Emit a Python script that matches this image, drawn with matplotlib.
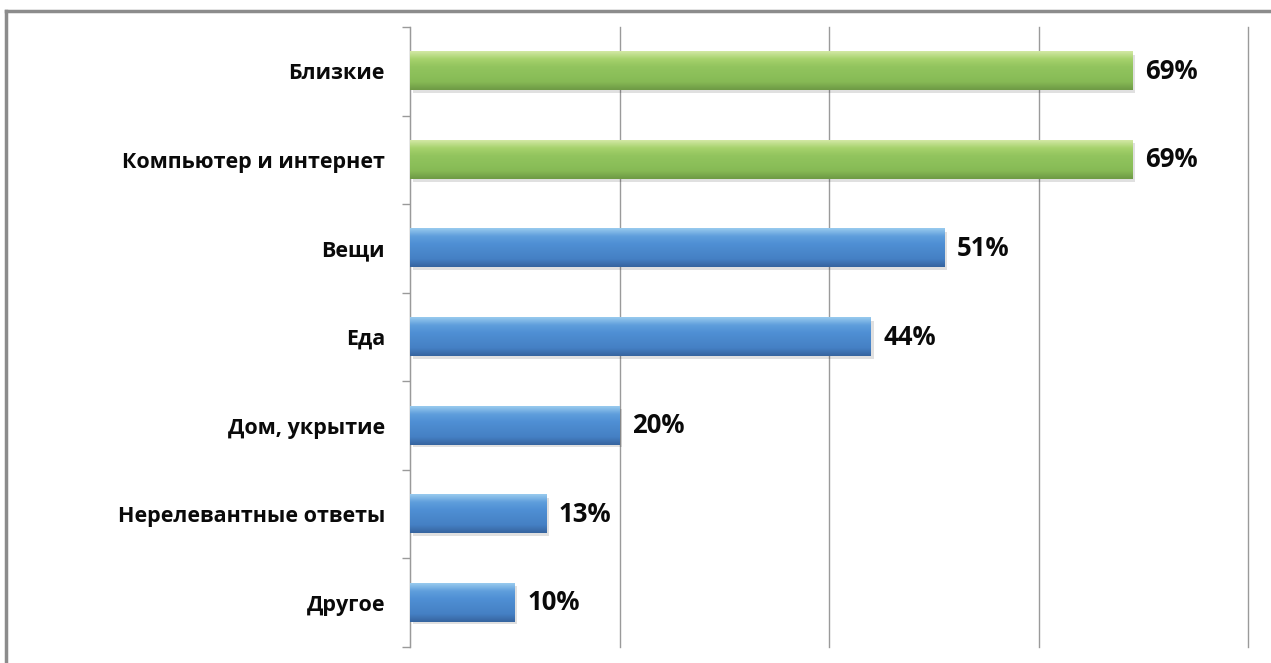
import numpy as np
import matplotlib
matplotlib.use("Agg")
import matplotlib.pyplot as plt
from matplotlib.lines import Line2D
from matplotlib.colors import LinearSegmentedColormap

categories = ["Близкие", "Компьютер и интернет", "Вещи", "Еда",
              "Дом, укрытие", "Нерелевантные ответы", "Другое"]
values = [69, 69, 51, 44, 20, 13, 10]
groups = ["green", "green", "blue", "blue", "blue", "blue", "blue"]
xticks = [0, 20, 40, 60, 80]

plt.rcParams['font.family'] = ['Open Sans', 'DejaVu Sans']

fig = plt.figure(figsize=(12.71, 6.63), dpi=100)
ax = fig.add_axes([410/1271, 16/663, (1248-410)/1271, (663-27-16)/663])

palettes = {
    "green": ["#d2e8a4", "#a6d26c", "#92c45e", "#8cc05a", "#86b955", "#6e9a45"],
    "blue": ["#98caee", "#5f9edc", "#4f8fd4", "#4a88cc", "#4580c4", "#36649f"],
}

y = np.arange(len(categories))
bars = ax.barh(y, values, height=0.43, color="none", edgecolor="none", zorder=3)
for b, g in zip(bars, groups):
    cmap = LinearSegmentedColormap.from_list(g, palettes[g][::-1])
    x0, y0 = b.get_x(), b.get_y()
    w, h = b.get_width(), b.get_height()
    grad = np.linspace(0, 1, 64).reshape(-1, 1)
    ax.imshow(grad[::-1], extent=(x0, x0 + w, y0 + h, y0), aspect="auto",
              cmap=cmap, origin="upper", zorder=3, interpolation="bicubic")
    ax.add_patch(plt.Rectangle((x0 + 0.25, y0 + 0.03), w, h, color="#000000",
                               alpha=0.12, zorder=2, lw=0))

for yi, v in zip(y, values):
    ax.annotate(f"{v}%", (v, yi), xytext=(9, 0), textcoords="offset points",
                va="center", ha="left", fontsize=18.5, fontweight="bold",
                color="#0a0a0a", zorder=5)

ax.set_xlim(0, 80)
ax.set_ylim(len(categories) - 0.5, -0.5)
ax.set_xticks(xticks)
ax.set_xticklabels([])
ax.tick_params(axis="x", length=0)
ax.xaxis.grid(True, color="#9a9a9a", lw=1)
ax.set_axisbelow(True)
for gl in ax.get_xgridlines():
    gl.set_clip_on(False)

ax.set_yticks(np.arange(len(categories) + 1) - 0.5, minor=True)
ax.set_yticks(y)
ax.set_yticklabels(categories, fontsize=15.5, fontweight="bold", color="#0a0a0a")
ax.tick_params(axis="y", which="major", length=0, pad=18)
ax.tick_params(axis="y", which="minor", length=6, color="#9a9a9a", width=1)

for s in ["top", "right", "bottom"]:
    ax.spines[s].set_visible(False)
ax.spines["left"].set_color("#9a9a9a")

fig.add_artist(Line2D([6/1271, 6/1271], [0, 1 - 11/663], transform=fig.transFigure,
                      color="#8c8c8c", lw=2.5))
fig.add_artist(Line2D([6/1271, 1], [1 - 11/663, 1 - 11/663], transform=fig.transFigure,
                      color="#8c8c8c", lw=2.5))

fig.savefig("out.png", dpi=100)
